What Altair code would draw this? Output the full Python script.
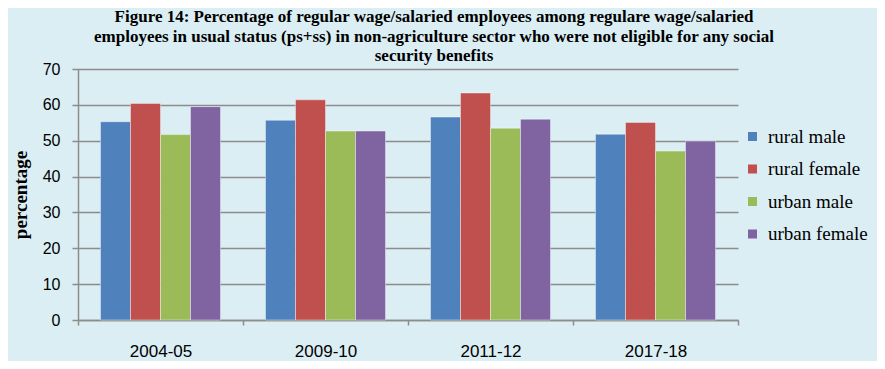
import altair as alt
import pandas as pd

years = ["2004-05", "2009-10", "2011-12", "2017-18"]
groups = ["rural male", "rural female", "urban male", "urban female"]
rural_male = [55.3, 55.7, 56.6, 51.8]
rural_female = [60.4, 61.4, 63.3, 55.1]
urban_male = [51.7, 52.7, 53.5, 47.1]
urban_female = [59.5, 52.7, 56.0, 49.9]
colors = ["#4F81BD", "#C0504D", "#9BBB59", "#8064A2"]
title_lines = [
    "Figure 14: Percentage of regular wage/salaried employees among regulare wage/salaried",
    "employees in usual status (ps+ss)  in non-agriculture sector who were not eligible for any social",
    "security benefits",
]

series = [rural_male, rural_female, urban_male, urban_female]
rows = []
for g, vals in zip(groups, series):
    for y, v in zip(years, vals):
        rows.append({"year": y, "group": g, "value": v})
df = pd.DataFrame(rows)

chart = (
    alt.Chart(df)
    .mark_bar(stroke="white", strokeWidth=0.8, strokeOpacity=0.5)
    .encode(
        x=alt.X(
            "year:N",
            sort=years,
            scale=alt.Scale(paddingInner=0, paddingOuter=0),
            axis=alt.Axis(
                title=None,
                labelAngle=0,
                tickBand="extent",
                labelFont="Liberation Sans",
                labelFontSize=17,
                labelColor="#000000",
                labelPadding=18,
                tickSize=5,
                tickColor="#8c8c8c",
                tickWidth=1.5,
                domainColor="#8c8c8c",
                domainWidth=1.5,
                grid=False,
            ),
        ),
        xOffset=alt.XOffset(
            "group:N",
            sort=groups,
            scale=alt.Scale(paddingInner=0, paddingOuter=0.75),
        ),
        y=alt.Y(
            "value:Q",
            scale=alt.Scale(domain=[0, 70], nice=False),
            axis=alt.Axis(
                title="percentage",
                values=[0, 10, 20, 30, 40, 50, 60, 70],
                titleFont="Liberation Serif",
                titleFontSize=19,
                titleFontWeight="bold",
                titleColor="#000000",
                titleX=-58,
                titleY=125.5,
                titleAngle=-90,
                titleAlign="center",
                titleBaseline="middle",
                labelFont="Liberation Sans",
                labelFontSize=16,
                labelColor="#000000",
                labelPadding=12,
                tickSize=6,
                tickColor="#8c8c8c",
                tickWidth=1.5,
                domainColor="#8c8c8c",
                domainWidth=1.5,
                grid=True,
                gridColor="#8c8c8c",
                gridWidth=1.5,
            ),
        ),
        color=alt.Color(
            "group:N",
            sort=groups,
            scale=alt.Scale(domain=groups, range=colors),
            legend=alt.Legend(
                title=None,
                orient="none",
                legendX=665,
                legendY=58,
                padding=0,
                symbolType="square",
                symbolSize=81,
                symbolStrokeWidth=0,
                labelFont="Liberation Serif",
                labelFontSize=19,
                labelColor="#000000",
                labelOffset=6,
                rowPadding=12.5,
            ),
        ),
    )
    .properties(
        width=660,
        height=251,
        background="#DBEEF4",
        autosize=alt.AutoSizeParams(type="none"),
        padding={"left": 70, "top": 61, "right": 139, "bottom": 41},
        title=alt.Title(
            text=title_lines,
            font="Liberation Serif",
            fontSize=17,
            fontWeight="bold",
            color="#000000",
            lineHeight=19.5,
            anchor="middle",
            dx=26,
            dy=10,
            offset=6,
        ),
    )
    .configure_view(stroke=None)
    .configure_legend(labelFont="Liberation Serif", labelFontSize=19)
)

chart.save("out.html", embed_options={"renderer": "svg", "actions": False})
